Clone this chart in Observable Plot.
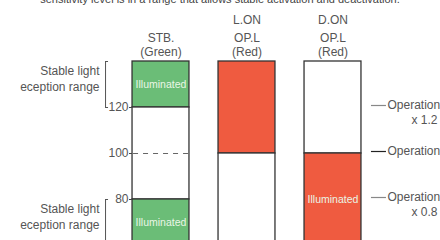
<!DOCTYPE html>
<html><head><meta charset="utf-8">
<script src="https://cdn.jsdelivr.net/npm/d3@7"></script>
<script src="https://cdn.jsdelivr.net/npm/@observablehq/plot@0.6"></script>
<style>
body{margin:0;background:#fff;overflow:hidden;font-family:"Liberation Sans",Arial,sans-serif;}
#wrap{position:relative;width:440px;height:240px;overflow:hidden;}
#title{position:absolute;top:-8.5px;left:0;width:440px;text-align:center;font-size:11px;color:#444;line-height:14px;white-space:nowrap;}
#chart{position:absolute;top:0;left:0;}
</style></head><body>
<div id="wrap"><div id="chart"></div><div id="title">sensitivity level is in a range that allows stable activation and deactivation.</div></div>
<script>
// Columns
const columns = [0, 1, 2];
const headTop = ["", "L.ON", "D.ON"];
const headName = ["STB.", "OP.L", "OP.L"];
const headColor = ["(Green)", "(Red)", "(Red)"];
// Bar segments (received light level, % of operation level)
const segCol = [0, 0, 0, 1, 1, 2, 2];
const segLo = [120, 80, 60, 100, 60, 100, 60];
const segHi = [140, 120, 80, 140, 100, 140, 100];
const segState = ["green", "off", "green", "red", "off", "off", "red"];
const segLabel = ["Illuminated", "", "Illuminated", "", "", "", "Illuminated"];
// Levels
const levels = [120, 100, 80];
const levelName = ["Operation", "Operation", "Operation"];
const levelMult = ["x 1.2", "", "x 0.8"];
const threshold = 100;
// Stable ranges
const stableLo = [120, 60];
const stableHi = [140, 80];
const stableText = ["Stable light\neception range", "Stable light\neception range"];

const W = 0.331;
const fillOf = {green: "#6bbd77", red: "#ef5b40", off: "#ffffff"};
const segs = segCol.map((c, i) => ({c, lo: segLo[i], hi: segHi[i], state: segState[i], label: segLabel[i]}));
const heads = columns.map(i => ({c: i, top: headTop[i], name: headName[i], color: headColor[i]}));
const lv = levels.map((v, i) => ({v, name: levelName[i], mult: levelMult[i], main: v === threshold}));
const stable = stableLo.map((lo, i) => ({lo, hi: stableHi[i], text: stableText[i]}));
const txt = "#555";

const chart = Plot.plot({
  width: 440, height: 250,
  marginTop: 61, marginBottom: 5, marginLeft: 132, marginRight: 69,
  x: {type: "linear", domain: [0, 2], range: [160.5, 332.5], axis: null},
  y: {domain: [60, 140], axis: null},
  style: {fontFamily: "'Liberation Sans', Arial, sans-serif", fontSize: "12px", color: txt, background: "#fff"},
  marks: [
    Plot.rectY(segs, {x1: d => d.c - W, x2: d => d.c + W, y1: "lo", y2: "hi", fill: d => fillOf[d.state], stroke: "#333", strokeWidth: 1.3}),
    Plot.ruleY([threshold], {x1: -W, x2: W, stroke: "#666", strokeWidth: 1.2, strokeDasharray: "5,5", insetLeft: 1, insetRight: 1}),
    Plot.text(segs.filter(d => d.label), {x: "c", y: d => (d.lo + d.hi) / 2, text: "label", fill: "#eaf6e6", fontSize: 10.5}),
    // left axis
    Plot.axisY({anchor: "left", ticks: levels, tickSize: 3, tickPadding: 1, tickFormat: d => d, stroke: "#444", fill: txt, fontSize: 12}),
    // left brackets
    Plot.ruleX(stable, {x: -W, y1: "lo", y2: "hi", dx: -27, stroke: "#555", strokeWidth: 1}),
    Plot.ruleY(stable, {y: "hi", x1: -W, x2: -W, insetLeft: -27, insetRight: 24, stroke: "#555", strokeWidth: 1}),
    Plot.ruleY(stable, {y: "lo", x1: -W, x2: -W, insetLeft: -27, insetRight: 24, stroke: "#555", strokeWidth: 1}),
    Plot.text(stable, {x: -W, y: "hi", text: "text", dx: -33, dy: 2.5, textAnchor: "end", lineAnchor: "top", lineHeight: 1.3, fill: txt, fontSize: 12}),
    // right level annotations
    Plot.ruleY(lv, {y: "v", x1: 2 + W, x2: 2 + W, insetLeft: 10, insetRight: -25, dy: -2, stroke: d => d.main ? "#222" : "#888", strokeWidth: 1.2}),
    Plot.text(lv, {x: 2 + W, y: "v", text: "name", dx: 26, dy: -2, textAnchor: "start", fill: txt, fontSize: 12}),
    Plot.text(lv.filter(d => d.mult), {x: 2 + W, y: "v", text: "mult", dx: 76, dy: 13, textAnchor: "end", fill: txt, fontSize: 12}),
    // column headers
    Plot.text(heads, {x: "c", text: "top", frameAnchor: "top", dy: -46, fill: txt, fontSize: 12}),
    Plot.text(heads, {x: "c", text: "name", frameAnchor: "top", dy: -28, fill: txt, fontSize: 12}),
    Plot.text(heads, {x: "c", text: "color", frameAnchor: "top", dy: -14, fill: txt, fontSize: 12})
  ]
});
document.getElementById("chart").appendChild(chart);
</script>
</body></html>
